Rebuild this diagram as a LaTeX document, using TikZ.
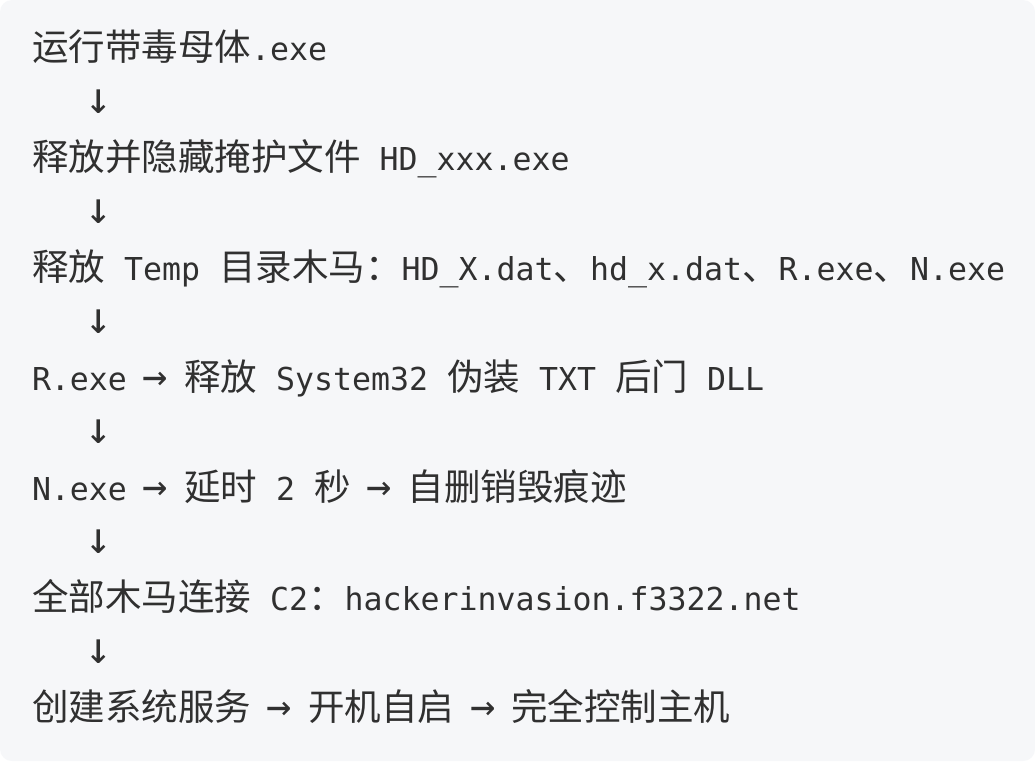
\documentclass[tikz,border=0pt]{standalone}
\usepackage{fontspec}
\setmonofont{DejaVu Sans Mono}
\newfontfamily\cjk{Noto Sans CJK SC}[Scale=1.157]
\definecolor{bg}{HTML}{F6F7F9}
\definecolor{txt}{HTML}{303030}
\newcommand{\ra}{\makebox[19pt]{\fontsize{42}{42}\selectfont →}}
\begin{document}
\begin{tikzpicture}[x=1pt,y=-1pt,
  codeline/.style={anchor=base west, inner sep=0pt, outer sep=0pt, text=txt,
    font=\ttfamily\fontsize{31.56}{31.56}\selectfont},
  downarrow/.style={anchor=base, inner sep=0pt, outer sep=0pt, text=txt,
    font=\ttfamily\fontsize{44}{44}\selectfont}]
\useasboundingbox (0,0) rectangle (1035,761);
\fill[white] (0,0) rectangle (1035,761);
\fill[bg, rounded corners=12pt] (0,0) rectangle (1035,761);
\node[codeline] (l1) at (32,60) {{\cjk 运行带毒母体}.exe};
\node[downarrow] (a1) at (99,113) {↓};
\node[codeline] (l2) at (32,170) {{\cjk 释放并隐藏掩护文件} HD\_xxx.exe};
\node[downarrow] (a2) at (99,223) {↓};
\node[codeline] (l3) at (32,280) {{\cjk 释放} Temp {\cjk 目录木马：}HD\_X.dat{\cjk 、}hd\_x.dat{\cjk 、}R.exe{\cjk 、}N.exe};
\node[downarrow] (a3) at (99,333) {↓};
\node[codeline] (l4) at (32,390) {R.exe \ra{} {\cjk 释放} System32 {\cjk 伪装} TXT {\cjk 后门} DLL};
\node[downarrow] (a4) at (99,443) {↓};
\node[codeline] (l5) at (32,500) {N.exe \ra{} {\cjk 延时} 2 {\cjk 秒} \ra{} {\cjk 自删销毁痕迹}};
\node[downarrow] (a5) at (99,553) {↓};
\node[codeline] (l6) at (32,610) {{\cjk 全部木马连接} C2{\cjk ：}hackerinvasion.f3322.net};
\node[downarrow] (a6) at (99,663) {↓};
\node[codeline] (l7) at (32,720) {{\cjk 创建系统服务} \ra{} {\cjk 开机自启} \ra{} {\cjk 完全控制主机}};
\end{tikzpicture}
\end{document}
